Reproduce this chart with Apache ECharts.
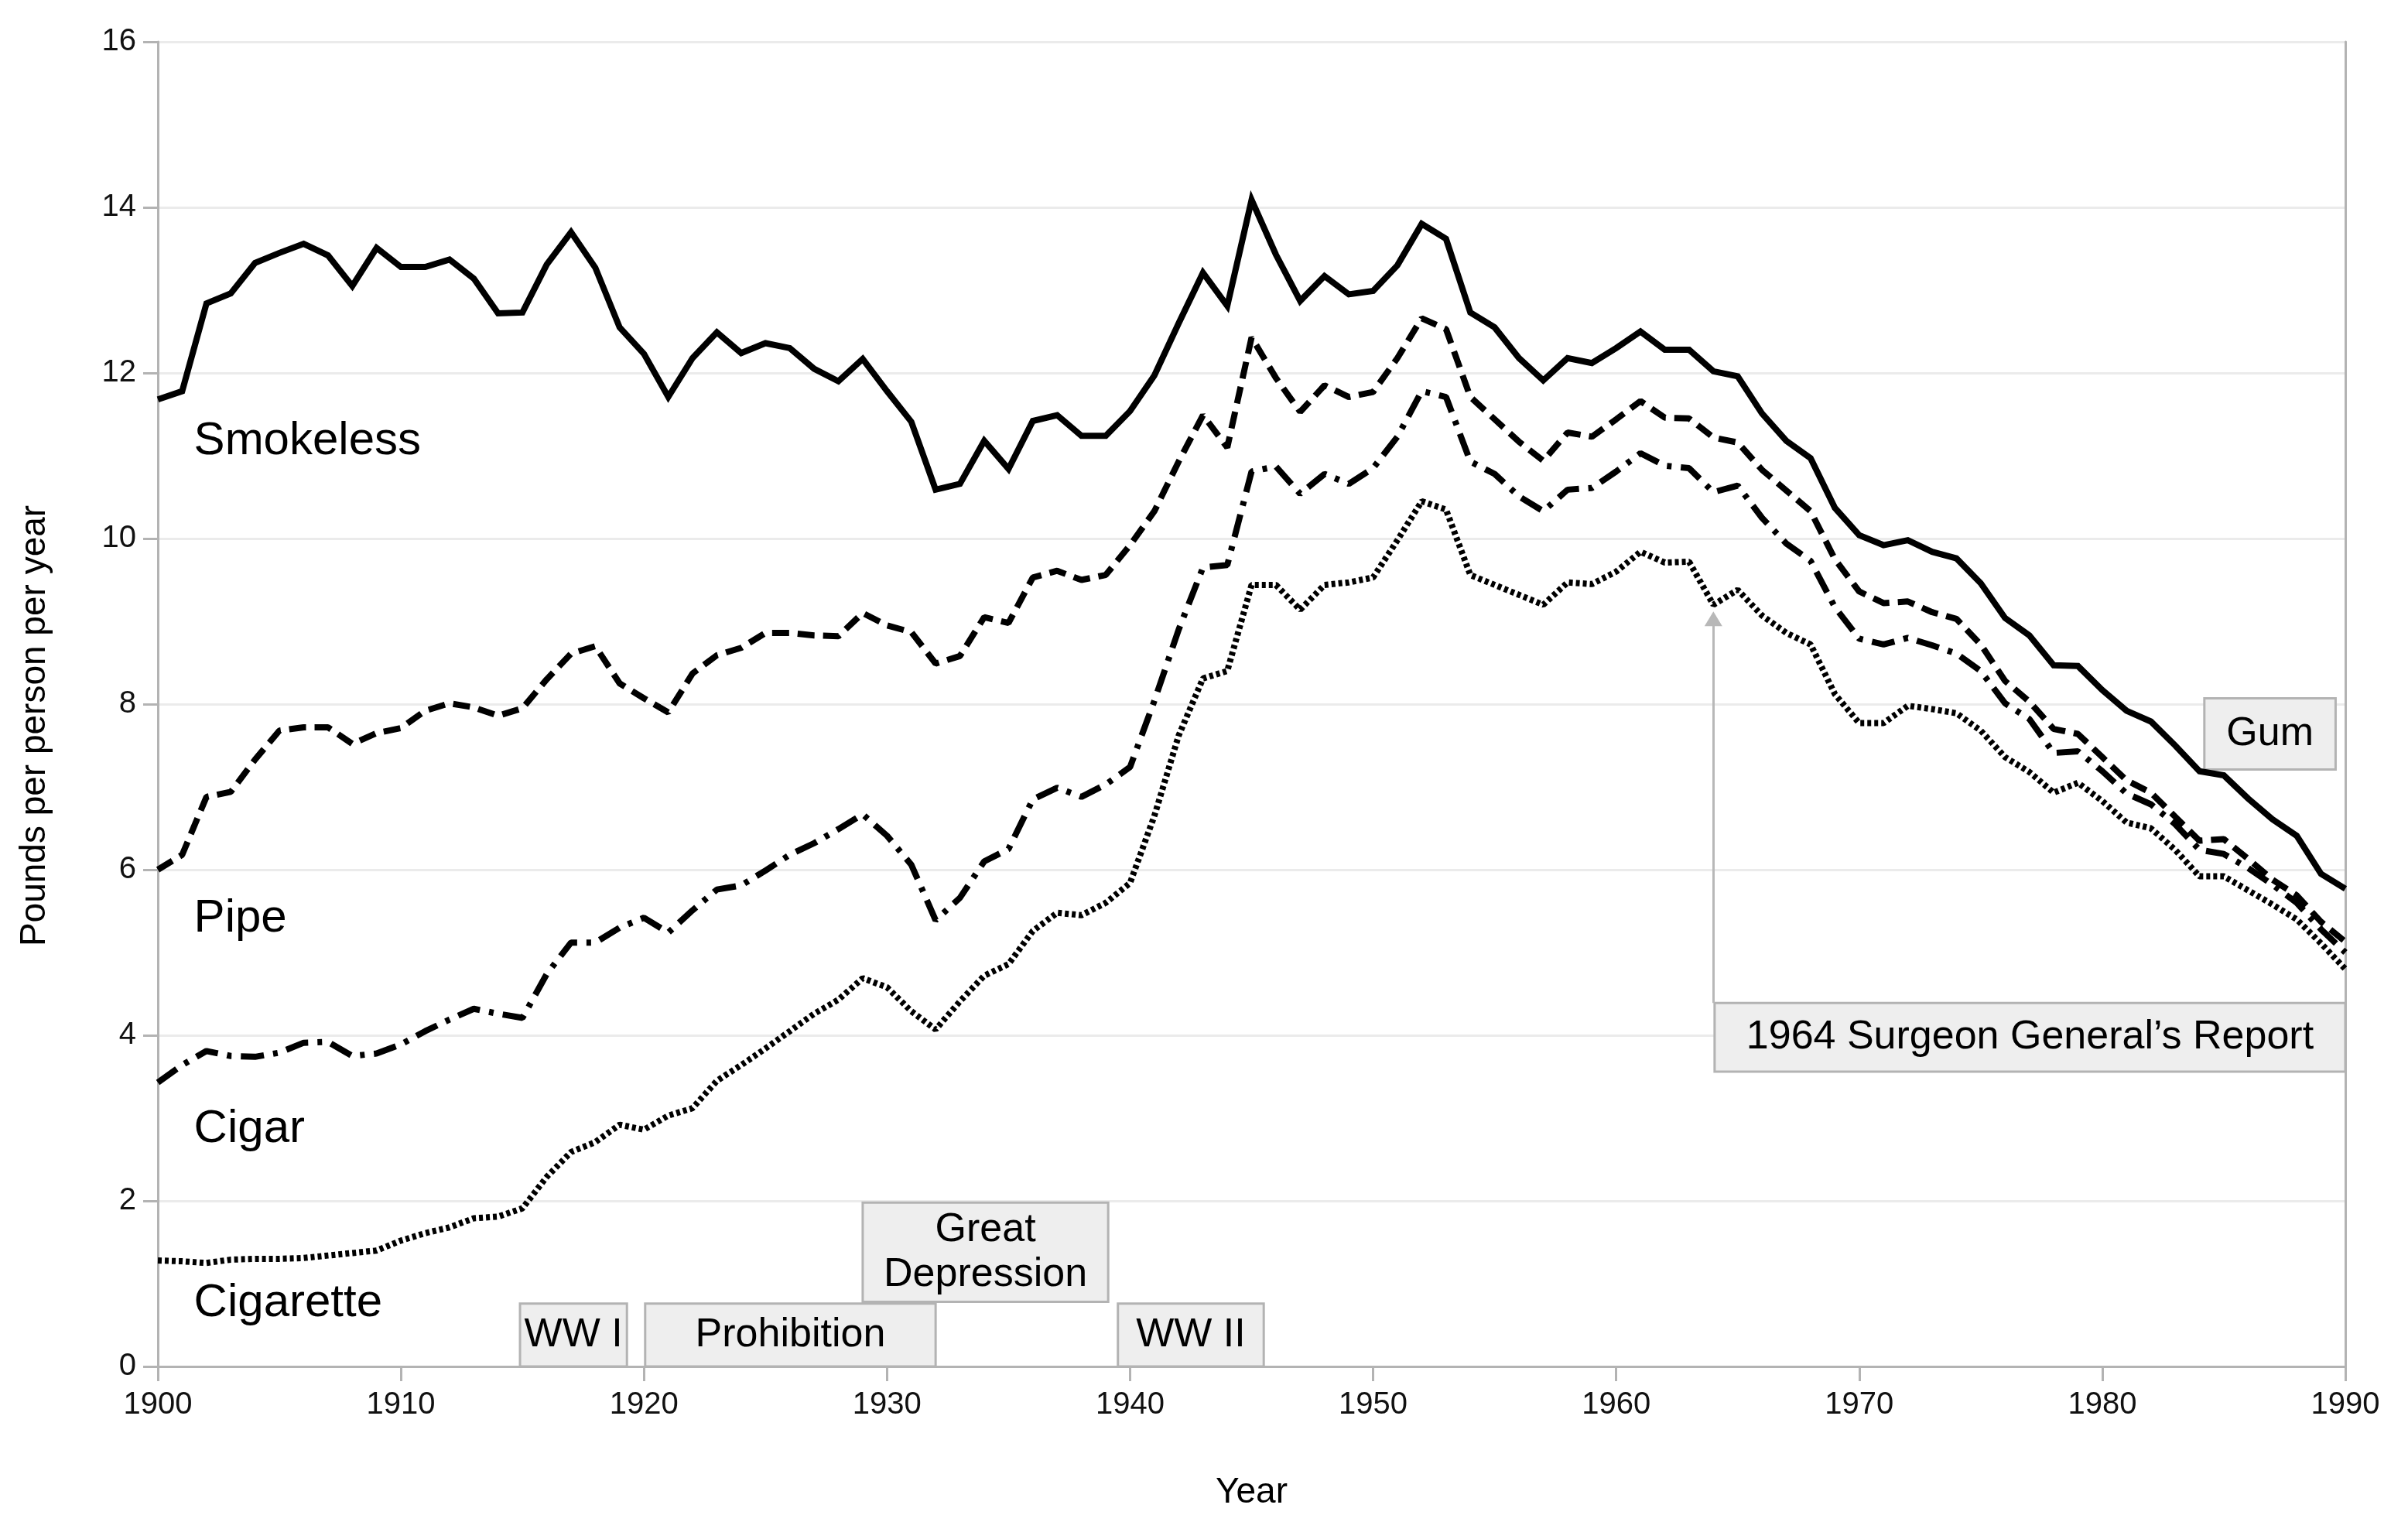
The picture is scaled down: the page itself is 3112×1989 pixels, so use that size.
<!DOCTYPE html>
<html>
<head>
<meta charset="utf-8">
<script src="https://cdn.jsdelivr.net/npm/echarts@6/dist/echarts.min.js"></script>
<style>
  html, body { margin: 0; padding: 0; background: #fff; }
  #chart { width: 3112px; height: 1989px; }
</style>
</head>
<body>
<div id="chart"></div>
<script>
// years 1900..1990, one value per year (pounds per person per year, cumulative lines)
var years = [];
for (var y = 1900; y <= 1990; y++) years.push(y);

var smokeless = [
  11.68, 11.78, 12.84, 12.96, 13.33, 13.45, 13.56, 13.42, 13.05, 13.51,
  13.28, 13.28, 13.37, 13.14, 12.72, 12.73, 13.31, 13.70, 13.27, 12.55,
  12.23, 11.71, 12.18, 12.49, 12.24, 12.36, 12.30, 12.05, 11.90, 12.17,
  11.78, 11.41, 10.59, 10.66, 11.18, 10.84, 11.42, 11.49, 11.24, 11.24,
  11.54, 11.97, 12.60, 13.21, 12.81, 14.09, 13.43, 12.87, 13.17, 12.95,
  12.99, 13.30, 13.80, 13.62, 12.73, 12.55, 12.18, 11.91, 12.18, 12.12,
  12.30, 12.50, 12.28, 12.28, 12.02, 11.96, 11.51, 11.18, 10.97, 10.37,
  10.04, 9.92, 9.98, 9.84, 9.76, 9.46, 9.04, 8.83, 8.47, 8.46,
  8.17, 7.92, 7.79, 7.50, 7.19, 7.14, 6.86, 6.61, 6.41, 5.95,
  5.77
];
var pipe = [
  6.00, 6.18, 6.88, 6.94, 7.33, 7.68, 7.72, 7.72, 7.52, 7.65,
  7.71, 7.92, 8.01, 7.96, 7.86, 7.95, 8.30, 8.61, 8.70, 8.25,
  8.07, 7.90, 8.37, 8.59, 8.68, 8.86, 8.86, 8.83, 8.82, 9.10,
  8.95, 8.87, 8.49, 8.58, 9.05, 8.98, 9.53, 9.61, 9.50, 9.56,
  9.92, 10.33, 10.93, 11.49, 11.10, 12.43, 11.94, 11.53, 11.85, 11.71,
  11.77, 12.18, 12.66, 12.53, 11.71, 11.44, 11.17, 10.94, 11.28, 11.23,
  11.44, 11.66, 11.46, 11.45, 11.22, 11.16, 10.83, 10.58, 10.33, 9.75,
  9.36, 9.22, 9.24, 9.11, 9.03, 8.72, 8.28, 8.03, 7.70, 7.64,
  7.36, 7.08, 6.93, 6.64, 6.35, 6.37, 6.13, 5.88, 5.69, 5.37,
  5.13
];
var cigar = [
  3.43, 3.64, 3.81, 3.75, 3.74, 3.79, 3.91, 3.92, 3.75, 3.78,
  3.89, 4.05, 4.19, 4.32, 4.26, 4.21, 4.74, 5.12, 5.12, 5.30,
  5.42, 5.24, 5.51, 5.76, 5.81, 5.99, 6.18, 6.32, 6.49, 6.67,
  6.41, 6.06, 5.39, 5.66, 6.10, 6.25, 6.85, 6.99, 6.88, 7.03,
  7.24, 8.04, 8.90, 9.65, 9.68, 10.81, 10.87, 10.54, 10.78, 10.66,
  10.85, 11.23, 11.78, 11.71, 10.93, 10.78, 10.51, 10.33, 10.59, 10.61,
  10.81, 11.03, 10.88, 10.85, 10.56, 10.64, 10.25, 9.94, 9.73, 9.17,
  8.79, 8.72, 8.80, 8.71, 8.61, 8.40, 8.01, 7.82, 7.41, 7.43,
  7.19, 6.92, 6.79, 6.55, 6.24, 6.19, 6.02, 5.82, 5.60, 5.28,
  5.00
];
var cigarette = [
  1.28, 1.27, 1.25, 1.29, 1.30, 1.30, 1.31, 1.34, 1.37, 1.40,
  1.52, 1.61, 1.68, 1.79, 1.81, 1.91, 2.29, 2.59, 2.71, 2.92,
  2.86, 3.03, 3.12, 3.45, 3.64, 3.84, 4.05, 4.26, 4.43, 4.69,
  4.58, 4.29, 4.07, 4.41, 4.72, 4.86, 5.26, 5.48, 5.45, 5.60,
  5.84, 6.65, 7.62, 8.31, 8.40, 9.44, 9.44, 9.14, 9.44, 9.47,
  9.53, 9.98, 10.45, 10.35, 9.56, 9.44, 9.32, 9.20, 9.47, 9.45,
  9.60, 9.84, 9.71, 9.72, 9.20, 9.38, 9.07, 8.86, 8.72, 8.12,
  7.77, 7.77, 7.98, 7.94, 7.89, 7.68, 7.36, 7.18, 6.93, 7.05,
  6.83, 6.57, 6.50, 6.24, 5.92, 5.92, 5.75, 5.58, 5.40, 5.11,
  4.80
];

var seriesNames = ['Smokeless', 'Pipe', 'Cigar', 'Cigarette'];
var yTicks = [0, 2, 4, 6, 8, 10, 12, 14, 16];
var xTicks = [1900, 1910, 1920, 1930, 1940, 1950, 1960, 1970, 1980, 1990];

// annotation boxes: [label, fromYear, toYear, fromValue, toValue]
var events = [
  ['WW I', 1914.9, 1919.3, 0, 0.76],
  ['Prohibition', 1920.05, 1932.0, 0, 0.76],
  ['Great\nDepression', 1929.0, 1939.1, 0.78, 1.98],
  ['WW II', 1939.5, 1945.5, 0, 0.76],
  ['1964 Surgeon General\u2019s Report', 1964.05, 1990.1, 3.56, 4.39],
  ['Gum', 1984.2, 1989.6, 7.21, 8.07]
];

var FONT = 'Liberation Sans';

function pairs(vals) {
  return years.map(function (yr, i) { return [yr, vals[i]]; });
}

function nameTag(text, x, v) {
  return {
    coord: [x, v],
    symbol: 'circle',
    symbolSize: 1,
    itemStyle: { color: 'rgba(0,0,0,0)' },
    label: {
      show: true,
      formatter: text,
      position: [0, 0],
      align: 'left',
      verticalAlign: 'middle',
      fontFamily: FONT,
      fontSize: 60,
      color: '#000'
    }
  };
}

var chart = echarts.init(document.getElementById('chart'), null, { renderer: 'canvas' });

var lineBase = { type: 'line', symbol: 'none', silent: true, animation: false, yAxisIndex: 0 };

var option = {
  animation: false,
  backgroundColor: '#fff',
  textStyle: { fontFamily: FONT },
  grid: { left: 204, right: 81, top: 54, bottom: 223, containLabel: false, outerBoundsMode: 'none' },
  xAxis: {
    type: 'value',
    min: xTicks[0],
    max: xTicks[xTicks.length - 1],
    interval: 10,
    name: 'Year',
    nameLocation: 'middle',
    nameGap: 140,
    nameTextStyle: { fontFamily: FONT, fontSize: 46, color: '#000' },
    axisLine: { show: true, lineStyle: { color: '#b3b3b3', width: 3 } },
    axisTick: { show: true, inside: false, length: 19, lineStyle: { color: '#b3b3b3', width: 3 } },
    axisLabel: {
      fontFamily: FONT, fontSize: 40, color: '#111', margin: 30,
      formatter: function (v) { return String(v); }
    },
    splitLine: { show: false }
  },
  yAxis: [{
    type: 'value',
    min: yTicks[0],
    max: yTicks[yTicks.length - 1],
    interval: 2,
    name: 'Pounds per person per year',
    nameLocation: 'middle',
    nameGap: 136,
    nameTextStyle: { fontFamily: FONT, fontSize: 46, color: '#000', padding: [0, 56, 0, 0] },
    axisLine: { show: true, lineStyle: { color: '#b3b3b3', width: 3 } },
    axisTick: { show: true, inside: false, length: 19, lineStyle: { color: '#b3b3b3', width: 3 } },
    axisLabel: { fontFamily: FONT, fontSize: 40, color: '#111', margin: 28 },
    splitLine: { show: true, lineStyle: { color: '#ebebeb', width: 3 } }
  }, {
    type: 'value',
    position: 'right',
    min: yTicks[0],
    max: yTicks[yTicks.length - 1],
    interval: 2,
    axisLine: { show: true, lineStyle: { color: '#b3b3b3', width: 3 } },
    axisTick: { show: false },
    axisLabel: { show: false },
    splitLine: { show: false }
  }],
  series: [
    Object.assign({}, lineBase, {
      name: seriesNames[0],
      data: pairs(smokeless),
      z: 5,
      lineStyle: { color: '#000', width: 8, type: 'solid', join: 'miter' },
      markPoint: { silent: true, animation: false, data: [nameTag(seriesNames[0], 1901.5, 11.17)] }
    }),
    Object.assign({}, lineBase, {
      name: seriesNames[1],
      data: pairs(pipe),
      z: 5,
      lineStyle: { color: '#000', width: 8, type: [22, 11] },
      markPoint: { silent: true, animation: false, data: [nameTag(seriesNames[1], 1901.5, 5.40)] }
    }),
    Object.assign({}, lineBase, {
      name: seriesNames[2],
      data: pairs(cigar),
      z: 5,
      lineStyle: { color: '#000', width: 8, type: [30, 12, 6, 12] },
      markPoint: { silent: true, animation: false, data: [nameTag(seriesNames[2], 1901.5, 2.86)] }
    }),
    Object.assign({}, lineBase, {
      name: seriesNames[3],
      data: pairs(cigarette),
      z: 5,
      lineStyle: { color: '#000', width: 8, type: [5, 4] },
      markPoint: { silent: true, animation: false, data: [nameTag(seriesNames[3], 1901.5, 0.76)] },
      markArea: {
        silent: true,
        animation: false,
        itemStyle: { color: '#eeeeee', borderColor: '#b3b3b3', borderWidth: 3 },
        label: {
          show: true,
          position: 'inside',
          fontFamily: FONT,
          fontSize: 52,
          lineHeight: 58,
          color: '#000'
        },
        data: events.map(function (e) {
          return [{ name: e[0], coord: [e[1], e[3]] }, { coord: [e[2], e[4]] }];
        })
      },
      markLine: {
        silent: true,
        animation: false,
        symbol: ['none', 'triangle'],
        symbolSize: [23, 19],
        label: { show: false },
        lineStyle: { color: '#b8b8b8', width: 3, type: 'solid' },
        data: [[{ coord: [1964, 4.39] }, { coord: [1964, 9.03] }]]
      }
    })
  ]
};

chart.setOption(option);
</script>
</body>
</html>
